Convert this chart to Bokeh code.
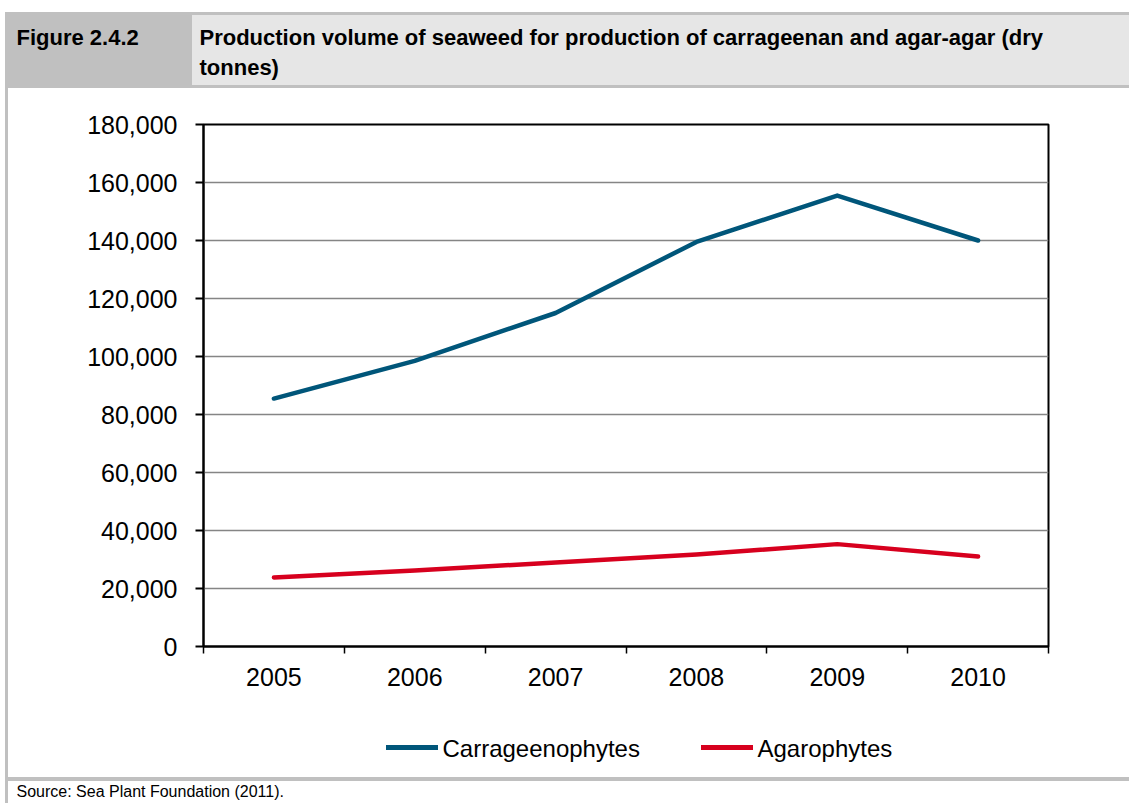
from bokeh.plotting import figure
from bokeh.models import (Range1d, FixedTicker, NumeralTickFormatter, Title)
from bokeh.embed import file_html
from bokeh.resources import INLINE

# ---- data ----
years = [2005, 2006, 2007, 2008, 2009, 2010]
carrageenophytes = [85500, 98500, 115000, 139500, 155500, 140000]
agarophytes = [23800, 26200, 29000, 31700, 35300, 31000]
y_ticks = [0, 20000, 40000, 60000, 80000, 100000, 120000, 140000, 160000, 180000]
series_names = ["Carrageenophytes", "Agarophytes"]
fig_label = "Figure 2.4.2"
title_lines = ["Production volume of seaweed for production of carrageenan and agar-agar (dry",
               "tonnes)"]
source_text = "Source: Sea Plant Foundation (2011)."

BLUE = "#00567A"
RED = "#D7001E"
series_colors = [BLUE, RED]
GREY_DARK = "#C0C0C0"
GREY_LIGHT = "#E6E6E6"
FONT = "Liberation Sans"

W, H = 1129, 803
FL, FR, FT, FB = 203, 1048, 124, 646   # plot-area edges in page pixels

# legend key geometry (page pixels)
KEY_Y = 747
KEY_X = [386, 701]
KEY_W = 52
KEY_GAP = 4

# page furniture (grey header cells, border lines, legend keys) as CSS layers
boxes = [
    (GREY_DARK, 5, 12, 192, 88),      # "Figure" cell
    (GREY_DARK, 5, 12, W, 15),        # header top line
    (GREY_LIGHT, 192, 15, W, 85),     # title cell
    (GREY_DARK, 192, 85, W, 88),      # header bottom line
    (GREY_DARK, 5, 88, 8, H),         # left border
    (GREY_DARK, 5, 777, W, 781),      # footer line
]
for c, kx in zip(series_colors, KEY_X):
    boxes.append((c, kx, KEY_Y - 2, kx + KEY_W, KEY_Y + 3))
layers = ", ".join(
    f"linear-gradient({c}, {c}) {x0}px {y0}px / {x1 - x0}px {y1 - y0}px no-repeat"
    for c, x0, y0, x1, y1 in boxes) + ", #FFFFFF"

p = figure(frame_width=FR - FL, frame_height=FB - FT,
           min_border_left=FL, min_border_right=W - FR,
           min_border_top=FT, min_border_bottom=H - FB,
           x_range=Range1d(years[0] - 0.5, years[-1] + 0.5),
           y_range=Range1d(y_ticks[0], y_ticks[-1]),
           title=fig_label,
           output_backend="svg", toolbar_location=None,
           background_fill_color="white", border_fill_color=None,
           outline_line_color="black", outline_line_width=2,
           styles={"background": layers})

# ---- texts outside the plot area: Titles stacked in the "above" panel ----
# slot height = 2 + text box height + standoff ; text offset from slot edge = standoff / 2
A_STANDOFF = 86
A_TOP = FT - (2 + 25 + A_STANDOFF)     # top edge of the first (lowest) title slot


def style(t, size, bold, offset, standoff, valign):
    t.text_font = FONT
    t.text_font_size = f"{size}px"
    t.text_font_style = "bold" if bold else "normal"
    t.text_color = "black"
    t.align = "left"
    t.vertical_align = valign
    t.offset = offset
    t.standoff = standoff


def add_text(text, px, baseline, size, bold=False):
    # zero-height slot at A_TOP, text pushed down to the wanted baseline
    s = 2 * (A_TOP - baseline - 0.212 * size)
    t = Title(text=text)
    style(t, size, bold, px - FL, s, "bottom")
    p.add_layout(t, "above")


t_line2 = Title(text=title_lines[1])
style(t_line2, 22, True, 199 - FL, A_STANDOFF, "top")
p.add_layout(t_line2, "above")

add_text(title_lines[0], 199, 45, 22, bold=True)
add_text(series_names[0], KEY_X[0] + KEY_W + KEY_GAP, KEY_Y + 9, 24)
add_text(series_names[1], KEY_X[1] + KEY_W + KEY_GAP, KEY_Y + 9, 24)
add_text(source_text, 16, 796, 16)

style(p.title, 22, True, 16 - FL, 2 * (A_TOP - 45 - 0.212 * 22), "bottom")

# ---- axes ----
p.xaxis.ticker = FixedTicker(ticks=years,
                             minor_ticks=[y - 0.5 for y in years] + [years[-1] + 0.5])
p.xaxis.major_tick_out = 0
p.xaxis.major_tick_in = 0
p.xaxis.minor_tick_out = 7
p.xaxis.minor_tick_in = 0
p.xaxis.minor_tick_line_color = "black"
p.xaxis.minor_tick_line_width = 1.5
p.xaxis.major_label_standoff = 14
p.xaxis.axis_line_width = 2
p.xaxis.axis_line_color = "black"

p.yaxis.ticker = FixedTicker(ticks=y_ticks)
p.yaxis.formatter = NumeralTickFormatter(format="0,0")
p.yaxis.major_tick_out = 8
p.yaxis.major_tick_in = 0
p.yaxis.major_tick_line_width = 2
p.yaxis.major_tick_line_color = "black"
p.yaxis.minor_tick_line_color = None
p.yaxis.major_label_standoff = 18
p.yaxis.axis_line_width = 2
p.yaxis.axis_line_color = "black"

for ax in (p.xaxis, p.yaxis):
    ax.major_label_text_font = FONT
    ax.major_label_text_font_size = "25px"
    ax.major_label_text_color = "black"

p.xgrid.visible = False
p.ygrid.ticker = FixedTicker(ticks=y_ticks)
p.ygrid.grid_line_color = "#858585"
p.ygrid.grid_line_width = 1.5

# ---- series ----
r1 = p.line(years, carrageenophytes, line_color=BLUE, line_width=4.5,
            line_cap="round", line_join="round")
r2 = p.line(years, agarophytes, line_color=RED, line_width=4.5,
            line_cap="round", line_join="round")

open("out.html", "w").write(file_html(p, INLINE))
